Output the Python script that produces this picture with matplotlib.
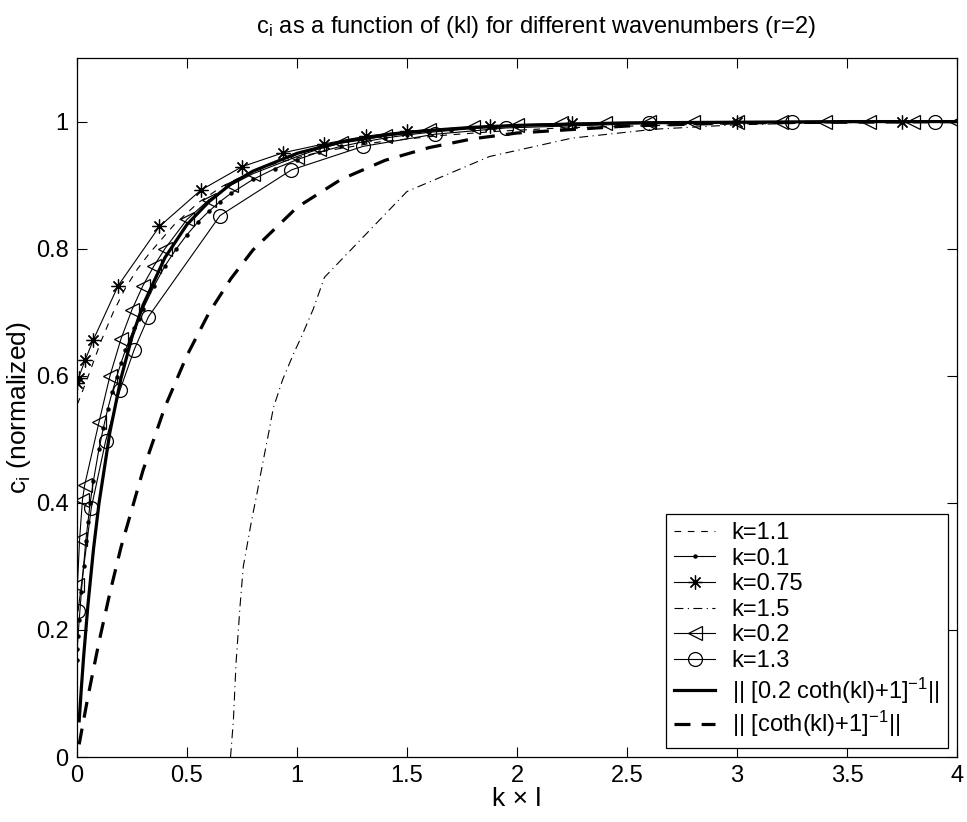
import matplotlib
matplotlib.use("Agg")
import matplotlib.pyplot as plt

plt.rcParams['font.family'] = ['Liberation Sans', 'DejaVu Sans']
plt.rcParams['mathtext.default'] = 'regular'

# ---------------- data ----------------
# k = 1.1 (thin dashed)
k11_x = [0.0011, 0.011, 0.055, 0.11, 0.165, 0.22, 0.275, 0.33, 0.385, 0.44, 0.55,
         0.66, 0.77, 0.88, 1.1, 1.375, 1.65, 1.925, 2.2, 2.75, 3.3, 3.85, 4.0]
k11_y = [0.555, 0.563, 0.603, 0.655, 0.700, 0.738, 0.768, 0.793, 0.815, 0.837, 0.872,
         0.898, 0.917, 0.932, 0.952, 0.968, 0.978, 0.985, 0.990, 0.995, 0.998, 0.999, 0.999]

# k = 0.1 (solid, small dots)
k01_x = [0.0001, 0.001, 0.005, 0.01, 0.02, 0.03, 0.04, 0.05, 0.06, 0.075, 0.1, 0.12,
         0.14, 0.16, 0.18, 0.2, 0.22, 0.24, 0.26, 0.28, 0.3, 0.35, 0.4, 0.45, 0.5, 0.55,
         0.6, 0.65, 0.7, 0.8, 0.9, 1.0, 1.1, 1.2, 1.3, 1.4, 1.5, 1.6, 1.7, 1.8, 1.9, 2.0]
k01_y = [0.153, 0.170, 0.190, 0.215, 0.260, 0.300, 0.340, 0.370, 0.400, 0.435, 0.485, 0.518,
         0.548, 0.574, 0.598, 0.620, 0.640, 0.658, 0.675, 0.690, 0.705, 0.741, 0.773, 0.799, 0.822, 0.842,
         0.859, 0.874, 0.887, 0.909, 0.926, 0.940, 0.952, 0.961, 0.968, 0.974, 0.979, 0.983, 0.986, 0.989, 0.991, 0.993]

# k = 0.75 (solid, asterisks)
k075_x = [0.00075, 0.0075, 0.0375, 0.075, 0.1875, 0.375, 0.5625, 0.75, 0.9375, 1.125,
          1.3125, 1.5, 1.875, 2.25, 3.0, 3.75]
k075_y = [0.588, 0.597, 0.625, 0.657, 0.742, 0.835, 0.892, 0.929, 0.951, 0.965,
          0.977, 0.985, 0.993, 0.997, 0.999, 1.0]

# k = 1.5 (thin dash-dot)
k15_x = [0.698, 0.711, 0.723, 0.741, 0.756, 0.794, 0.82, 0.844, 0.87, 0.893, 0.935, 0.986,
         1.021, 1.074, 1.125, 1.5, 1.875, 2.25, 2.625, 3.0, 3.375, 3.75, 4.0]
k15_y = [0.0, 0.058, 0.148, 0.237, 0.300, 0.373, 0.418, 0.462, 0.508, 0.550, 0.594, 0.636,
         0.662, 0.705, 0.755, 0.890, 0.945, 0.974, 0.988, 0.995, 0.998, 0.999, 1.0]

# k = 0.2 (solid, left triangles)
k02_x = [0.002, 0.012, 0.025, 0.035, 0.1, 0.15, 0.2, 0.25, 0.3, 0.35, 0.4, 0.5, 0.6, 0.7,
         0.8, 1.0, 1.1, 1.2, 1.4, 1.6, 1.8, 2.0, 2.2, 2.4, 2.6, 2.8, 3.0, 3.2, 3.4, 3.6, 3.8, 4.0]
k02_y = [0.270, 0.343, 0.405, 0.428, 0.527, 0.600, 0.658, 0.704, 0.742, 0.773, 0.800, 0.846,
         0.877, 0.900, 0.918, 0.945, 0.957, 0.966, 0.977, 0.986, 0.991, 0.995, 0.997, 0.998,
         0.999, 0.999, 1.0, 1.0, 1.0, 1.0, 1.0, 1.0]

# k = 1.3 (solid, circles)
k13_x = [0.005, 0.065, 0.13, 0.195, 0.26, 0.325, 0.65, 0.975, 1.3, 1.625, 1.95, 2.6, 3.25, 3.9]
k13_y = [0.230, 0.392, 0.497, 0.577, 0.641, 0.693, 0.852, 0.924, 0.961, 0.980, 0.990,
         0.997, 0.999, 1.0]

# || [0.2 coth(kl)+1]^-1 || (thick solid)
th1_x = [0.01, 0.02, 0.03, 0.05, 0.075, 0.1, 0.15, 0.2, 0.25, 0.3, 0.4, 0.5, 0.6, 0.7, 0.8,
         1.0, 1.2, 1.4, 1.6, 1.8, 2.0, 2.5, 3.0, 3.5, 4.0]
th1_y = [0.057, 0.109, 0.157, 0.240, 0.327, 0.399, 0.512, 0.596, 0.661, 0.711, 0.786, 0.838,
         0.874, 0.902, 0.922, 0.950, 0.968, 0.979, 0.986, 0.991, 0.994, 0.998, 0.999, 1.0, 1.0]

# || [coth(kl)+1]^-1 || (thick dashed)
th2_x = [0.01, 0.02, 0.05, 0.1, 0.15, 0.2, 0.3, 0.4, 0.5, 0.6, 0.7, 0.8, 1.0, 1.2, 1.4,
         1.6, 1.8, 2.0, 2.5, 3.0, 3.5, 4.0]
th2_y = [0.020, 0.039, 0.095, 0.181, 0.259, 0.330, 0.451, 0.551, 0.632, 0.699, 0.753, 0.798,
         0.865, 0.909, 0.939, 0.959, 0.973, 0.982, 0.993, 0.998, 0.999, 1.0]

labels = ["k=1.1", "k=0.1", "k=0.75", "k=1.5", "k=0.2", "k=1.3",
          "|| [0.2 coth(kl)+1]$^{-1}$||", "|| [coth(kl)+1]$^{-1}$||"]

x_ticks = [0, 0.5, 1, 1.5, 2, 2.5, 3, 3.5, 4]
x_ticklabels = ["0", "0.5", "1", "1.5", "2", "2.5", "3", "3.5", "4"]
y_ticks = [0, 0.2, 0.4, 0.6, 0.8, 1]
y_ticklabels = ["0", "0.2", "0.4", "0.6", "0.8", "1"]

# ---------------- figure ----------------
fig = plt.figure(figsize=(9.67, 8.22), dpi=100)
ax = fig.add_axes([0.0796, 0.079, 0.9101, 0.8504])

lw = 0.8
ax.plot(k11_x, k11_y, color='k', lw=lw, linestyle=(0, (6, 6)), label=labels[0])
ax.plot(k01_x, k01_y, color='k', lw=lw, marker='o', markersize=2.2, label=labels[1])
ax.plot(k075_x, k075_y, color='k', lw=lw, marker=(8, 2, 0), markersize=10,
        markeredgewidth=0.9, label=labels[2])
ax.plot(k15_x, k15_y, color='k', lw=lw, linestyle=(0, (8, 4, 1, 4)), label=labels[3])
ax.plot(k02_x, k02_y, color='k', lw=lw, marker='<', markersize=10, markerfacecolor='none',
        markeredgewidth=0.9, label=labels[4])
ax.plot(k13_x, k13_y, color='k', lw=lw, marker='o', markersize=10, markerfacecolor='none',
        markeredgewidth=0.9, label=labels[5])
ax.plot(th1_x, th1_y, color='k', lw=2.3, label=labels[6])
ax.plot(th2_x, th2_y, color='k', lw=2.3, linestyle=(0, (5, 3.5)), label=labels[7])

ax.set_xlim(0, 4)
ax.set_ylim(0, 1.1)
ax.set_xticks(x_ticks)
ax.set_xticklabels(x_ticklabels)
ax.set_yticks(y_ticks)
ax.set_yticklabels(y_ticklabels)
ax.tick_params(direction='in', length=7, width=0.8, top=True, right=True,
               labelsize=17, pad=6)
for s in ax.spines.values():
    s.set_linewidth(0.9)

ax.set_title("$c_i$ as a function of (kl) for different wavenumbers (r=2)", fontsize=17,
             pad=18, x=0.522)
ax.set_xlabel("k \u00d7 l", fontsize=19, labelpad=0)
ax.set_ylabel("$c_i$ (normalized)", fontsize=19, labelpad=2)

leg = ax.legend(loc='lower right', fontsize=17, frameon=True, fancybox=False,
                edgecolor='k', framealpha=1, handlelength=1.75, handletextpad=0.7,
                labelspacing=0.15, borderpad=0.35, borderaxespad=0.4)
leg.get_frame().set_linewidth(0.9)

fig.savefig("out.png", dpi=100, facecolor='white')
